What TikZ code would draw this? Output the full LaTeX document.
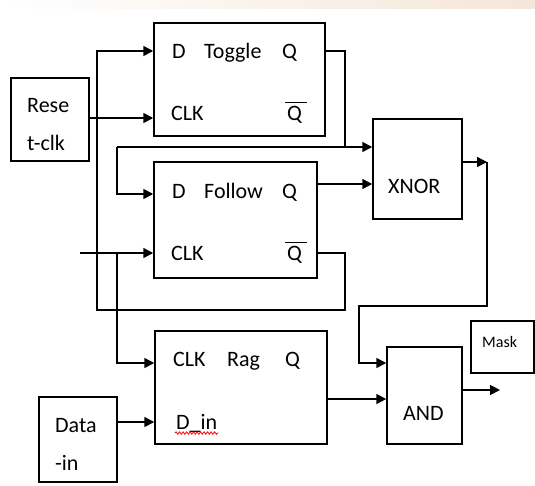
\documentclass[tikz,border=0pt]{standalone}
\usepackage{fontspec}
\setmainfont{Carlito}
\usetikzlibrary{arrows.meta,decorations.pathmorphing}
\begin{document}
\begin{tikzpicture}[x=1pt,y=-1pt,
  box/.style={draw=black,line width=1.5pt,rectangle,inner sep=0pt},
  lbl/.style={anchor=base west,inner sep=0pt,font=\fontsize{22}{26}\selectfont},
  wire/.style={line width=1.5pt},
  arr/.style={wire,-{Triangle[length=10pt,width=10pt]}},
  qbar/.style={line width=1.2pt}]
\useasboundingbox (0,0) rectangle (535,485);
\shade[left color=white,middle color={rgb,255:red,236;green,231;blue,226},right color={rgb,255:red,244;green,230;blue,217}] (0,0) rectangle (535,8);

% boxes
\node[box,minimum width=171pt,minimum height=113pt] (toggle) at (239.5,79.5) {};
\node[box,minimum width=78pt,minimum height=83pt] (reset) at (50,119.5) {};
\node[box,minimum width=163pt,minimum height=116pt] (follow) at (235.5,220) {};
\node[box,minimum width=172pt,minimum height=113pt] (rag) at (241,387.5) {};
\node[box,minimum width=78pt,minimum height=85pt] (data) at (78,439.5) {};
\node[box,minimum width=89pt,minimum height=100pt] (xnor) at (417.5,169) {};
\node[box,minimum width=75pt,minimum height=97pt] (and) at (424.5,395.5) {};
\node[box,minimum width=63pt,minimum height=52pt] (mask) at (502.5,347) {};

% texts
\node[lbl] (tD) at (172,58) {D};
\node[lbl] (tName) at (204,58) {Toggle};
\node[lbl] (tQ) at (282,58) {Q};
\node[lbl] (tCLK) at (171,120) {CLK};
\node[lbl] (tQb) at (287,120) {Q};
\draw[qbar] ([xshift=-2pt,yshift=3pt]tQb.north west) -- ([xshift=5pt,yshift=3pt]tQb.north east);

\node[lbl] (fD) at (172,198) {D};
\node[lbl] (fName) at (204,198) {Follow};
\node[lbl] (fQ) at (282,198) {Q};
\node[lbl] (fCLK) at (171,260) {CLK};
\node[lbl] (fQb) at (287,260) {Q};
\draw[qbar] ([xshift=-2pt,yshift=3pt]fQb.north west) -- ([xshift=5pt,yshift=3pt]fQb.north east);

\node[lbl] (rCLK) at (173,366) {CLK};
\node[lbl] (rName) at (227,366) {Rag};
\node[lbl] (rQ) at (285,366) {Q};
\node[lbl] (rDin) at (176,429) {D\_in};
\draw[red,line width=0.8pt,decorate,decoration={snake,amplitude=1.2pt,segment length=3.5pt}] (175,433) -- (218,433);

\node[lbl] (res1) at (27,112) {Rese};
\node[lbl] (res2) at (27,150) {t-clk};
\node[lbl] (dat1) at (55,432) {Data};
\node[lbl] (dat2) at (55,470) {-in};

\node[lbl] (xn) at (388,193) {XNOR};
\node[lbl] (an) at (403,420) {AND};
\node[anchor=base west,inner sep=0pt,font=\fontsize{16}{18}\selectfont] (mk) at (482,347) {Mask};

% junction coordinates
\coordinate (rA) at (0,51);
\coordinate (rB) at (0,118);
\coordinate (rC) at (0,147);
\coordinate (rD) at (0,184);
\coordinate (rD2) at (0,194);
\coordinate (rE) at (0,253);
\coordinate (rR1) at (0,363);
\coordinate (rR2) at (0,422);
\coordinate (rR3) at (0,399);
\coordinate (rX) at (0,162);
\coordinate (rAO) at (0,390);
\coordinate (clkin) at (80,253);
\coordinate (split1) at (117,147);
\coordinate (split2) at (117,253);
\coordinate (xcorner) at (487,162);
\coordinate (andout) at (500,390);

% feedback Follow Qbar -> Toggle D
\draw[arr] (follow.east |- rE) -- (345,253) -- (345,310) -- (97,310) -- (97,51) -- (toggle.west |- rA);
% reset -> toggle clk
\draw[arr] (reset.east |- rB) -- (toggle.west |- rB);
% toggle Q
\draw[wire] (toggle.east |- rA) -- (345,51) -- (345,147);
\draw[arr] (split1) -- (xnor.west |- rC);
\draw[arr] (split1) -- (117,194) -- (follow.west |- rD2);
% follow Q -> xnor
\draw[arr] (follow.east |- rD) -- (xnor.west |- rD);
% clock input
\draw[arr] (clkin) -- (follow.west |- rE);
\draw[arr] (split2) -- (117,363) -- (rag.west |- rR1);
% data in
\draw[arr] (data.east |- rR2) -- (rag.west |- rR2);
% xnor out
\draw[arr] (xnor.east |- rX) -- (xcorner);
\draw[arr] (xcorner) -- (487,306) -- (359,306) -- (359,363) -- (and.west |- rR1);
% rag Q -> and
\draw[arr] (rag.east |- rR3) -- (and.west |- rR3);
% and out
\draw[arr] (and.east |- rAO) -- (andout);
\end{tikzpicture}
\end{document}
